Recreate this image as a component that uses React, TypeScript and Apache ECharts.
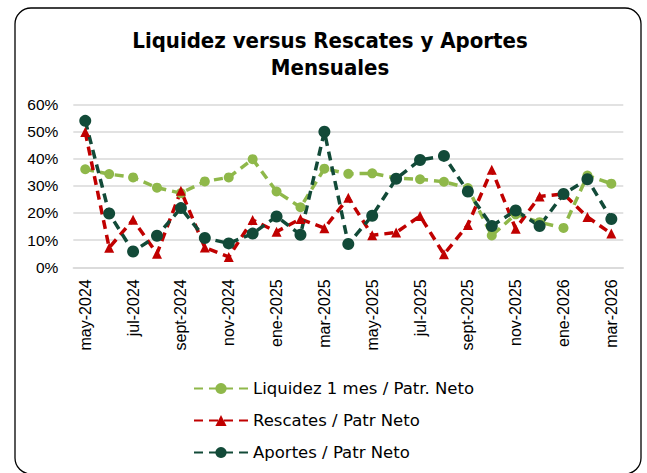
import React, { useEffect, useRef } from "react";
import * as echarts from "echarts";

const categories = [
  "may-2024", "jun-2024", "jul-2024", "ago-2024", "sept-2024", "oct-2024",
  "nov-2024", "dic-2024", "ene-2025", "feb-2025", "mar-2025", "abr-2025",
  "may-2025", "jun-2025", "jul-2025", "ago-2025", "sept-2025", "oct-2025",
  "nov-2025", "dic-2025", "ene-2026", "feb-2026", "mar-2026",
];

const liquidez = [36.1, 34.3, 33.1, 29.3, 27.3, 31.6, 33.1, 39.8, 27.9, 22.1, 36.3, 34.4, 34.6, 32.8, 32.4, 31.5, 29.2, 11.7, 19.5, 16.6, 14.5, 33.8, 30.8];
const rescates = [49.8, 7.2, 17.5, 5.0, 28.2, 7.3, 3.8, 17.4, 13.1, 17.8, 14.4, 25.6, 11.8, 12.8, 18.9, 4.8, 15.6, 35.9, 14.2, 26.1, 27.0, 18.5, 12.4];
const aportes = [53.9, 19.8, 5.8, 11.6, 21.8, 10.8, 8.8, 12.4, 18.7, 12.0, 49.9, 8.6, 19.0, 32.6, 39.5, 41.0, 27.9, 15.2, 20.9, 15.2, 27.0, 32.4, 17.8];

const seriesNames = ["Liquidez 1 mes / Patr. Neto", "Rescates / Patr Neto", "Aportes / Patr Neto"];
const titleLines = ["Liquidez versus Rescates y Aportes", "Mensuales"];

const LIGHT = "#8FB84A";
const RED = "#C00000";
const DARK = "#124A38";

export default function App() {
  const ref = useRef<HTMLDivElement>(null);
  useEffect(() => {
    if (!ref.current) return;
    const chart = echarts.init(ref.current, null, { renderer: "svg" });
    const dash = [9, 6];
    const mk = (name: string, data: number[], color: string, symbol: string, size: number) => ({
      name,
      type: "line",
      data,
      symbol,
      symbolSize: size,
      showAllSymbol: true,
      lineStyle: { color, width: 3.5, type: dash },
      itemStyle: { color, borderWidth: 0 },
    });
    const titleFont = "bold 22px 'DejaVu Sans Condensed', 'DejaVu Sans'";
    chart.setOption({
      animation: false,
      backgroundColor: "#ffffff",
      graphic: [
        {
          type: "rect",
          shape: { x: 15, y: 8, width: 626, height: 466, r: 16 },
          style: { fill: "none", stroke: "#000", lineWidth: 1.3 },
          z: 0,
        },
        {
          type: "text",
          x: 330,
          y: 40,
          style: { text: titleLines[0], fill: "#000", font: titleFont, textAlign: "center", textVerticalAlign: "middle" },
        },
        {
          type: "text",
          x: 330,
          y: 67,
          style: { text: titleLines[1], fill: "#000", font: titleFont, textAlign: "center", textVerticalAlign: "middle" },
        },
      ],
      grid: { left: 73.3, right: 23.7, top: 104.3, bottom: 205.7, containLabel: false },
      legend: {
        orient: "vertical",
        left: 188,
        top: 375,
        itemWidth: 54,
        itemHeight: 14,
        itemGap: 15,
        data: seriesNames,
        textStyle: { fontFamily: "'DejaVu Sans'", fontSize: 16.5, color: "#000" },
      },
      xAxis: {
        type: "category",
        data: categories,
        boundaryGap: true,
        axisLine: { show: true, lineStyle: { color: "#D9D9D9", width: 1.5 } },
        axisTick: { show: false },
        axisLabel: {
          interval: 1,
          rotate: 90,
          margin: 12,
          color: "#000",
          fontSize: 16,
          fontFamily: "'Liberation Sans'",
        },
      },
      yAxis: {
        type: "value",
        min: 0,
        max: 60,
        interval: 10,
        axisLine: { show: false },
        axisTick: { show: false },
        splitLine: { lineStyle: { color: "#D9D9D9", width: 1.5 } },
        axisLabel: {
          formatter: "{value}%",
          color: "#000",
          fontSize: 15.5,
          margin: 15,
          fontFamily: "'Liberation Sans'",
        },
      },
      series: [
        mk(seriesNames[0], liquidez, LIGHT, "circle", 10),
        mk(seriesNames[1], rescates, RED, "triangle", 10),
        mk(seriesNames[2], aportes, DARK, "circle", 12),
      ],
    });
    return () => chart.dispose();
  }, []);
  return (
    <div
      ref={ref}
      style={{ position: "fixed", left: 0, top: 0, width: 647, height: 473, background: "#fff" }}
    />
  );
}
